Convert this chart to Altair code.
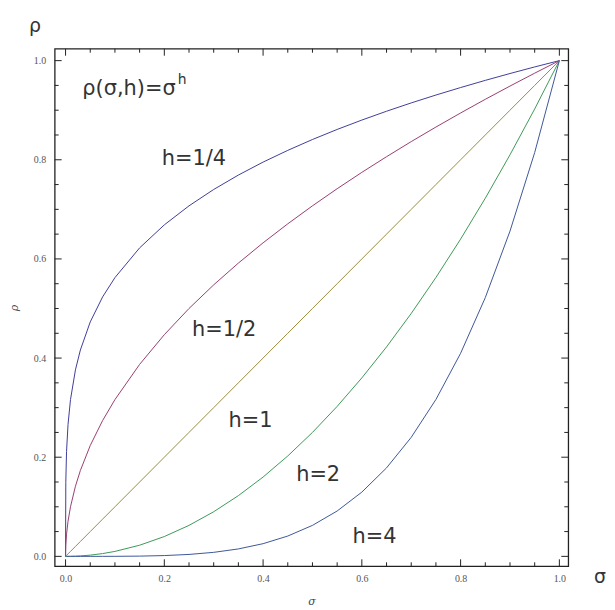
import altair as alt
import pandas as pd

# ---- data (rho = sigma^h curves) ----
SIGMA = [0.0, 0.0005, 0.002, 0.005, 0.01, 0.02, 0.03, 0.05, 0.075, 0.1, 0.15, 0.2, 0.25,
         0.3, 0.35, 0.4, 0.45, 0.5, 0.55, 0.6, 0.65, 0.7, 0.75, 0.8, 0.85, 0.9, 0.95, 1.0]
RHO_H_QUARTER = [0.0, 0.1495, 0.2115, 0.2659, 0.3162, 0.3761, 0.4162, 0.4729, 0.5233, 0.5623,
                 0.6223, 0.6687, 0.7071, 0.7401, 0.7692, 0.7953, 0.8190, 0.8409, 0.8612, 0.8801,
                 0.8979, 0.9147, 0.9306, 0.9457, 0.9602, 0.9740, 0.9873, 1.0]
RHO_H_HALF = [0.0, 0.0224, 0.0447, 0.0707, 0.1, 0.1414, 0.1732, 0.2236, 0.2739, 0.3162,
              0.3873, 0.4472, 0.5, 0.5477, 0.5916, 0.6325, 0.6708, 0.7071, 0.7416, 0.7746,
              0.8062, 0.8367, 0.8660, 0.8944, 0.9220, 0.9487, 0.9747, 1.0]
RHO_H_ONE = [0.0, 0.0005, 0.002, 0.005, 0.01, 0.02, 0.03, 0.05, 0.075, 0.1, 0.15, 0.2, 0.25,
             0.3, 0.35, 0.4, 0.45, 0.5, 0.55, 0.6, 0.65, 0.7, 0.75, 0.8, 0.85, 0.9, 0.95, 1.0]
RHO_H_TWO = [0.0, 0.0, 0.000004, 0.000025, 0.0001, 0.0004, 0.0009, 0.0025, 0.0056, 0.01,
             0.0225, 0.04, 0.0625, 0.09, 0.1225, 0.16, 0.2025, 0.25, 0.3025, 0.36, 0.4225,
             0.49, 0.5625, 0.64, 0.7225, 0.81, 0.9025, 1.0]
RHO_H_FOUR = [0.0, 0.0, 0.0, 0.0, 0.0, 0.0, 0.0, 0.0000063, 0.00003, 0.0001, 0.0005, 0.0016,
              0.0039, 0.0081, 0.0150, 0.0256, 0.0410, 0.0625, 0.0915, 0.1296, 0.1785, 0.2401,
              0.3164, 0.4096, 0.5220, 0.6561, 0.8145, 1.0]

H_LABELS = ["1/4", "1/2", "1", "2", "4"]
SERIES = [RHO_H_QUARTER, RHO_H_HALF, RHO_H_ONE, RHO_H_TWO, RHO_H_FOUR]
COLORS = ["#3F3D99", "#993D71", "#998C3D", "#3D9957", "#3D5799"]

MAJOR_TICKS = [0.0, 0.2, 0.4, 0.6, 0.8, 1.0]
MINOR_TICKS = [0.05, 0.1, 0.15, 0.25, 0.3, 0.35, 0.45, 0.5, 0.55,
               0.65, 0.7, 0.75, 0.85, 0.9, 0.95]

ANN_TEXT = ["h=1/4", "h=1/2", "h=1", "h=2", "h=4", "ρ(σ,h)=σ"]
ANN_X = [0.195, 0.256, 0.330, 0.467, 0.581, 0.034]
ANN_Y = [0.802, 0.457, 0.273, 0.164, 0.038, 0.942]

SUP_TEXT = ["h"]
SUP_X = [0.227]
SUP_Y = [0.960]

BIG_TEXT = ["ρ", "σ"]
BIG_X = [-0.062, 1.082]
BIG_Y = [1.070, -0.042]

W, H = 517, 521
XDOM = [-0.022, 1.018]
YDOM = [-0.02, 1.024]

rows = []
for lab, ser in zip(H_LABELS, SERIES):
    for s, r in zip(SIGMA, ser):
        rows.append({"sigma": s, "rho": r, "h": lab})
df = pd.DataFrame(rows)

xs = alt.Scale(domain=XDOM, nice=False, zero=False)
ys = alt.Scale(domain=YDOM, nice=False, zero=False)

AX = alt.Axis(
    values=MAJOR_TICKS, format=".1f", ticks=False, domain=False, grid=False,
    labelFont="Liberation Serif", labelFontSize=10, labelColor="#555",
    labelPadding=7, title="σ", titleFont="DejaVu Serif", titleFontStyle="italic",
    titleFontWeight="normal", titleFontSize=11, titleColor="#444", titlePadding=12)
AY = alt.Axis(
    values=MAJOR_TICKS, format=".1f", ticks=False, domain=False, grid=False,
    labelFont="Liberation Serif", labelFontSize=10, labelColor="#555",
    labelPadding=9, title="ρ", titleFont="DejaVu Serif", titleFontStyle="italic",
    titleFontWeight="normal", titleFontSize=11, titleColor="#444", titlePadding=14)


def X(field):
    return alt.X(field, scale=xs, axis=AX, title="σ")


def Y(field):
    return alt.Y(field, scale=ys, axis=AY, title="ρ")


lines = alt.Chart(df).mark_line(strokeWidth=1.0, clip=True).encode(
    x=X("sigma:Q"),
    y=Y("rho:Q"),
    color=alt.Color("h:N", scale=alt.Scale(domain=H_LABELS, range=COLORS), legend=None),
)

layers = [lines]
tick_color = "#222"
for vals, ln in [(MAJOR_TICKS, 7), (MINOR_TICKS, 4)]:
    tdf = pd.DataFrame({"v": vals})
    base = alt.Chart(tdf).mark_rule(color=tick_color, strokeWidth=1)
    layers.append(base.encode(x=X("v:Q"), y=alt.value(H), y2=alt.value(H - ln)))
    layers.append(base.encode(x=X("v:Q"), y=alt.value(0), y2=alt.value(ln)))
    layers.append(base.encode(y=Y("v:Q"), x=alt.value(0), x2=alt.value(ln)))
    layers.append(base.encode(y=Y("v:Q"), x=alt.value(W), x2=alt.value(W - ln)))

ann = alt.Chart(pd.DataFrame({"t": ANN_TEXT, "x": ANN_X, "y": ANN_Y})).mark_text(
    align="left", baseline="middle", font="DejaVu Sans", fontSize=21, color="#333"
).encode(x=X("x:Q"), y=Y("y:Q"), text="t:N")

sup = alt.Chart(pd.DataFrame({"t": SUP_TEXT, "x": SUP_X, "y": SUP_Y})).mark_text(
    align="left", baseline="middle", font="DejaVu Sans", fontSize=14, color="#333"
).encode(x=X("x:Q"), y=Y("y:Q"), text="t:N")

big = alt.Chart(pd.DataFrame({"t": BIG_TEXT, "x": BIG_X, "y": BIG_Y})).mark_text(
    align="center", baseline="middle", font="DejaVu Sans", fontSize=19, color="#333"
).encode(x=X("x:Q"), y=Y("y:Q"), text="t:N")

layers += [ann, sup, big]

chart = alt.layer(*layers).properties(
    width=W, height=H,
    autosize=alt.AutoSizeParams(type="none"),
    padding={"left": 47, "top": 39, "right": 39, "bottom": 41},
    background="white",
).configure_view(stroke="#222", strokeWidth=1.3)

chart.save("out.html", embed_options={"renderer": "svg", "actions": False})
